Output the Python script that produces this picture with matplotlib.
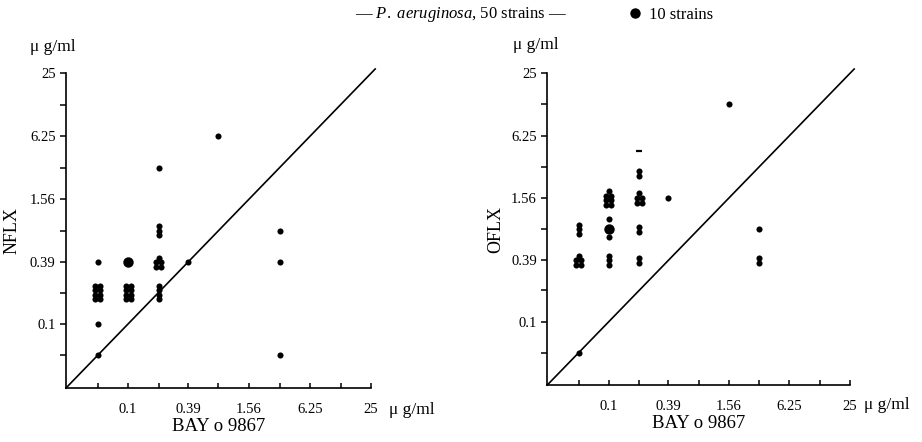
import matplotlib
matplotlib.use('Agg')
import matplotlib.pyplot as plt
from matplotlib.lines import Line2D
from matplotlib.transforms import ScaledTranslation

plt.rcParams['font.family'] = ['Liberation Serif', 'DejaVu Serif']
plt.rcParams['mathtext.fontset'] = 'custom'
plt.rcParams['mathtext.it'] = 'Liberation Serif:italic'
plt.rcParams['mathtext.rm'] = 'Liberation Serif'

# two-fold dilution levels (ug/ml) and their tick labels
levels = [0.05, 0.1, 0.2, 0.39, 0.78, 1.56, 3.13, 6.25, 12.5, 25]
level_labels = ['', '0.1', '', '0.39', '', '1.56', '', '6.25', '', '25']

# left panel: BAY o 9867 vs NFLX, n = strains at that spot
nflx_bay = [0.05, 0.05, 0.05, 0.05, 0.1, 0.1, 0.2, 0.2, 0.2, 0.2, 0.39, 0.78, 3.13, 3.13, 3.13]
nflx_mic = [0.05, 0.1, 0.2, 0.39, 0.2, 0.39, 0.2, 0.39, 0.78, 3.13, 0.39, 6.25, 0.78, 0.39, 0.05]
nflx_n = [1, 1, 8, 1, 8, 10, 4, 5, 3, 1, 1, 1, 1, 1, 1]

# right panel: BAY o 9867 vs OFLX
oflx_bay = [0.05, 0.05, 0.05, 0.1, 0.1, 0.1, 0.1, 0.1, 0.2, 0.2, 0.2, 0.2, 0.39, 1.56, 3.13, 3.13]
oflx_mic = [0.05, 0.78, 0.39, 1.56, 0.78, 0.98, 0.66, 0.39, 2.7, 1.56, 0.78, 0.39, 1.56, 12.5, 0.78, 0.39]
oflx_n = [1, 3, 5, 7, 10, 1, 1, 3, 2, 5, 2, 2, 1, 1, 1, 2]
# the partly printed mark above the 0.2 column
oflx_dash_bay = [0.2]
oflx_dash_mic = [4.4]

LO = 25 / 1024.0
HI = 25.0


def layout(n):
    # offsets (points) to pile up several strains at one spot
    dx, dy = 1.8, 3.3
    if n <= 4:
        return [(0, (i - (n - 1) / 2.0) * dy) for i in range(n)]
    rows = (n + 1) // 2
    offs = []
    r0 = (rows - 1) / 2.0
    if n % 2:
        offs.append((0, (rows - 1 - r0) * dy))
        rows_left = rows - 1
    else:
        rows_left = rows
    for row in range(rows_left):
        y = (row - r0) * dy
        offs.append((-dx, y))
        offs.append((dx, y))
    return offs


def panel(ax, xs, ys, ns, ylab, labx):
    ax.set_xscale('log', base=2)
    ax.set_yscale('log', base=2)
    ax.set_xlim(LO, HI)
    ax.set_ylim(LO, HI)
    for s in ['top', 'right']:
        ax.spines[s].set_visible(False)
    for s in ['left', 'bottom']:
        ax.spines[s].set_linewidth(1.2)
    ax.set_xticks(levels)
    ax.set_xticklabels(level_labels)
    ax.set_yticks(levels)
    ax.set_yticklabels(level_labels)
    ax.minorticks_off()
    ax.tick_params(axis='x', direction='in', length=3.8, width=1.1, pad=11, labelsize=10.5)
    ax.tick_params(axis='y', direction='out', length=4.5, width=1.1, pad=3, labelsize=10.5)
    ax.plot([LO, HI * 1.1], [LO, HI * 1.1], color='black', lw=1.2, clip_on=False)
    for x, y, n in zip(xs, ys, ns):
        if n >= 10:
            ax.plot(x, y, 'o', color='black', ms=7.5, mew=0)
            continue
        for dx, dy in layout(n):
            tr = ax.transData + ScaledTranslation(dx / 72.0, dy / 72.0, fig.dpi_scale_trans)
            ax.plot(x, y, 'o', color='black', ms=4.4, mew=0, transform=tr)
    ax.set_ylabel(ylab, fontsize=13)
    ax.yaxis.set_label_coords(labx, 0.5)
    ax.set_xlabel('BAY o 9867', fontsize=13.5, labelpad=1)


fig = plt.figure(figsize=(9.22, 4.42), dpi=100)
ax1 = fig.add_axes([66 / 922, 1 - 388 / 442, 305 / 922, 314.7 / 442])
ax2 = fig.add_axes([547.3 / 922, 1 - 385 / 442, 302.7 / 922, 311.7 / 442])

panel(ax1, nflx_bay, nflx_mic, nflx_n, 'NFLX', -0.148)
panel(ax2, oflx_bay, oflx_mic, oflx_n, 'OFLX', -0.143)
ax2.plot(oflx_dash_bay, oflx_dash_mic, '_', color='black', ms=4.5, mew=1.6)

# unit labels
fig.text(30 / 922, 1 - 47 / 442, 'μ g/ml', fontsize=12.5, va='center')
fig.text(513 / 922, 1 - 45 / 442, 'μ g/ml', fontsize=12.5, va='center')
fig.text(389 / 922, 1 - 410 / 442, 'μ g/ml', fontsize=12.5, va='center')
fig.text(864 / 922, 1 - 405 / 442, 'μ g/ml', fontsize=12.5, va='center')

# header
fig.text(355 / 922, 1 - 15 / 442, r'— $P.$ $aeruginosa$, 50 strains —', fontsize=12, va='center')
h = Line2D([], [], marker='o', ls='', color='black', ms=7.5, mew=0)
fig.legend(handles=[h], labels=['10 strains'], loc='center left',
           bbox_to_anchor=(617 / 922, 1 - 15 / 442), frameon=False,
           fontsize=12, handletextpad=0.2, borderpad=0, handlelength=1.2)

fig.savefig('out.png', dpi=100)
